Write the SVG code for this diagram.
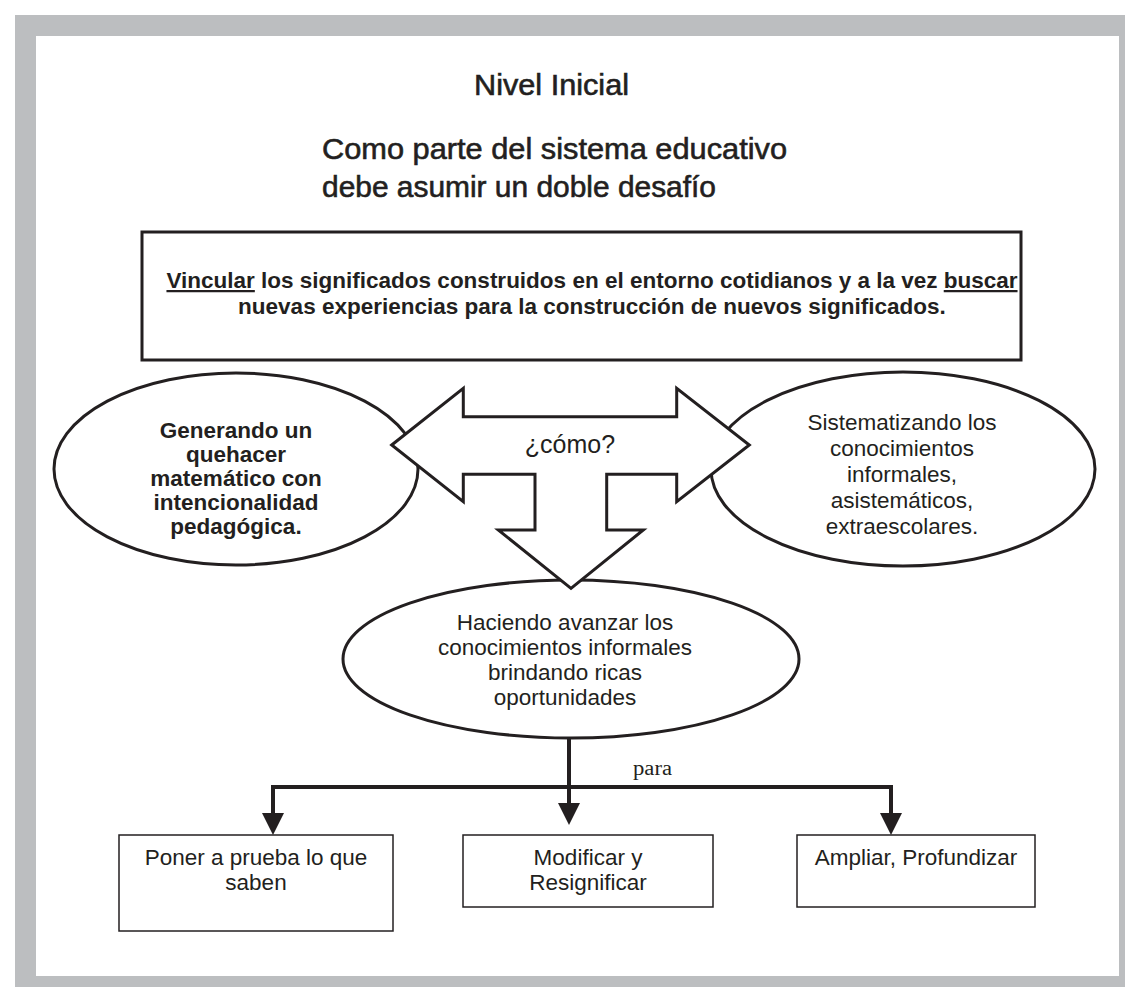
<svg xmlns="http://www.w3.org/2000/svg" width="1125" height="987" viewBox="0 0 1125 987">
<defs>
<style>
.t{font-family:"Liberation Sans",Arial,sans-serif;fill:#231f20}
.b{font-weight:bold}
.c{text-anchor:middle}
.f22{font-size:22.5px}
.h{font-size:30px;stroke:#231f20;stroke-width:0.6}
.sh{fill:#fff;stroke:#231f20;stroke-width:3}
.bx{fill:#fff;stroke:#231f20;stroke-width:1.5}
.ln{fill:none;stroke:#231f20;stroke-width:4}
</style>
<marker id="ah" markerUnits="userSpaceOnUse" viewBox="0 0 22 22" markerWidth="22" markerHeight="22" refX="8" refY="11" orient="auto">
<path d="M0,0 L22,11 L0,22 z" fill="#231f20"/>
</marker>
</defs>
<rect x="15" y="15" width="1110" height="972" fill="#bcbec0"/>
<rect x="36" y="36" width="1083" height="940" fill="#fff"/>
<g id="titulo">
<text class="t h" x="474" y="95" textLength="155" lengthAdjust="spacingAndGlyphs">Nivel Inicial</text>
<text class="t h" x="322" y="159" textLength="465" lengthAdjust="spacingAndGlyphs">Como parte del sistema educativo</text>
<text class="t h" x="322" y="197" textLength="394" lengthAdjust="spacingAndGlyphs">debe asumir un doble desafío</text>
</g>
<g id="desafio">
<rect x="142" y="232" width="879" height="128" fill="#fff" stroke="#231f20" stroke-width="3"/>
<text class="t b c f22" x="592" y="288"><tspan text-decoration="underline">Vincular</tspan> los significados construidos en el entorno cotidianos y a la vez <tspan text-decoration="underline">buscar</tspan></text>
<text class="t b c f22" x="592" y="314">nuevas experiencias para la construcción de nuevos significados.</text>
</g>
<g id="generando">
<ellipse class="sh" cx="236" cy="469" rx="182" ry="96"/>
<text class="t b c f22" x="236"><tspan x="236" y="438">Generando un</tspan><tspan x="236" y="462">quehacer</tspan><tspan x="236" y="486">matemático con</tspan><tspan x="236" y="510">intencionalidad</tspan><tspan x="236" y="534">pedagógica.</tspan></text>
</g>
<g id="sistematizando">
<ellipse class="sh" cx="903" cy="469" rx="192" ry="97"/>
<text class="t c f22" x="902"><tspan x="902" y="430">Sistematizando los</tspan><tspan x="902" y="456">conocimientos</tspan><tspan x="902" y="482">informales,</tspan><tspan x="902" y="508">asistemáticos,</tspan><tspan x="902" y="534">extraescolares.</tspan></text>
</g>
<g id="haciendo">
<ellipse class="sh" cx="571" cy="659" rx="228" ry="79"/>
<text class="t c f22" x="565"><tspan x="565" y="630">Haciendo avanzar los</tspan><tspan x="565" y="655">conocimientos informales</tspan><tspan x="565" y="680">brindando ricas</tspan><tspan x="565" y="705">oportunidades</tspan></text>
</g>
<g id="como">
<polygon class="sh" points="391.7,445 463.3,388.3 463.3,416.7 676.7,416.7 676.7,388.3 749.3,445 676.7,501.7 676.7,474.3 606.7,474.3 606.7,530 643.3,530 571,588.3 498.3,530 535,530 535,474.3 463.3,474.3 463.3,501.7"/>
<text class="t c" x="570" y="453" font-size="25">¿cómo?</text>
</g>
<g id="conectores">
<path class="ln" d="M569,738 V811" marker-end="url(#ah)"/>
<path class="ln" d="M271,787 H893"/>
<path class="ln" d="M273,787 V821" marker-end="url(#ah)"/>
<path class="ln" d="M891,787 V821" marker-end="url(#ah)"/>
<text x="633" y="775" font-family="'Liberation Serif','Times New Roman',serif" font-size="20" fill="#231f20" textLength="39" lengthAdjust="spacingAndGlyphs">para</text>
</g>
<g id="poner">
<rect class="bx" x="119" y="835" width="274" height="96"/>
<text class="t c f22" x="256"><tspan x="256" y="865">Poner a prueba lo que</tspan><tspan x="256" y="890">saben</tspan></text>
</g>
<g id="modificar">
<rect class="bx" x="463" y="835" width="250" height="72"/>
<text class="t c f22" x="588"><tspan x="588" y="865">Modificar y</tspan><tspan x="588" y="890">Resignificar</tspan></text>
</g>
<g id="ampliar">
<rect class="bx" x="797" y="835" width="238" height="72"/>
<text class="t c f22" x="916" y="865">Ampliar, Profundizar</text>
</g>
</svg>
